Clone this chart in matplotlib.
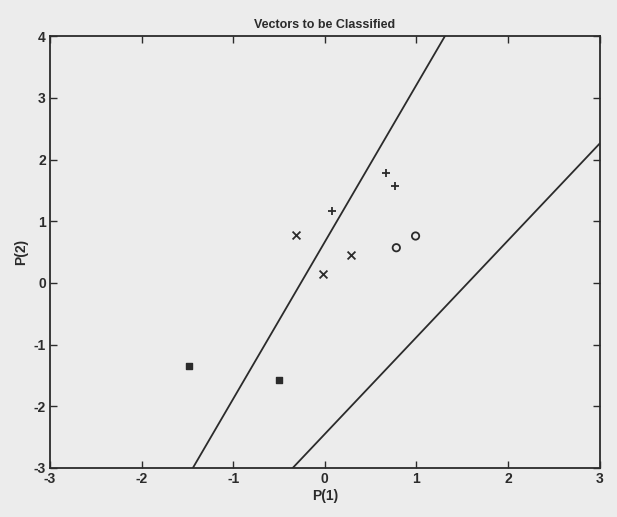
import matplotlib
matplotlib.use('Agg')
import matplotlib.pyplot as plt

# points (P(1), P(2))
plus_x = [0.67, 0.77, 0.08]
plus_y = [1.78, 1.57, 1.16]
cross_x = [-0.31, 0.28, -0.02]
cross_y = [0.77, 0.45, 0.14]
circle_x = [0.99, 0.78]
circle_y = [0.76, 0.57]
square_x = [-1.48, -0.50]
square_y = [-1.34, -1.57]

# the two decision lines, given by where they cross the plot border
line1_x = [-1.44, 1.31]
line1_y = [-3.0, 4.0]
line2_x = [-0.35, 3.0]
line2_y = [-3.0, 2.26]

xticks = [-3, -2, -1, 0, 1, 2, 3]
yticks = [-3, -2, -1, 0, 1, 2, 3, 4]

paper = '#ececec'
ink = '#2b2b2b'

plt.rcParams['font.family'] = ['Liberation Sans', 'DejaVu Sans']
plt.rcParams['axes.unicode_minus'] = False

fig = plt.figure(figsize=(6.17, 5.17), dpi=100, facecolor=paper)
ax = fig.add_axes([0.081, 0.095, 0.891, 0.835], facecolor=paper)

ax.plot(line1_x, line1_y, color=ink, lw=1.3)
ax.plot(line2_x, line2_y, color=ink, lw=1.3)

ax.scatter(plus_x, plus_y, marker='+', s=35, color=ink, linewidths=1.3)
ax.scatter(cross_x, cross_y, marker='x', s=32, color=ink, linewidths=1.3)
ax.scatter(circle_x, circle_y, marker='o', s=28, facecolors='none', edgecolors=ink, linewidths=1.3)
ax.scatter(square_x, square_y, marker='s', s=22, color=ink)

ax.set_xlim(-3, 3)
ax.set_ylim(-3, 4)
ax.set_xticks(xticks)
ax.set_yticks(yticks)
ax.tick_params(direction='in', top=True, right=True, length=5, width=1,
               color=ink, labelsize=10, labelcolor=ink, pad=3)
for lab in ax.get_xticklabels() + ax.get_yticklabels():
    lab.set_fontweight('bold')
for s in ax.spines.values():
    s.set_color(ink)
    s.set_linewidth(1.3)

ax.set_title('Vectors to be Classified', fontsize=9, fontweight='bold', color=ink, pad=6)
ax.set_xlabel('P(1)', fontsize=10, fontweight='bold', color=ink, labelpad=2)
ax.set_ylabel('P(2)', fontsize=10, fontweight='bold', color=ink, labelpad=4)

fig.savefig('out.png', dpi=100, facecolor=paper)
